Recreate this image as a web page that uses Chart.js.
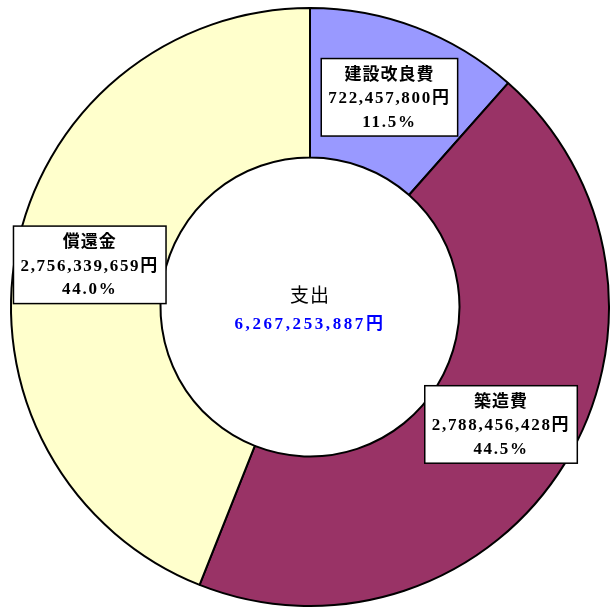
<!DOCTYPE html>
<html><head><meta charset="utf-8">
<script src="https://cdn.jsdelivr.net/npm/chart.js@4/dist/chart.umd.min.js"></script>
<style>html,body{margin:0;padding:0;background:#fff;}#wrap{width:612px;height:612px;}</style>
</head><body><div id="wrap"><canvas id="c" width="612" height="612"></canvas></div>
<script>
const categories = ['建設改良費', '築造費', '償還金'];
const amounts = [722457800, 2788456428, 2756339659];
const amountLabels = ['722,457,800円', '2,788,456,428円', '2,756,339,659円'];
const percentLabels = ['11.5%', '44.5%', '44.0%'];
const centerTitle = '支出';
const centerTotal = '6,267,253,887円';
const colors = ['#9999FF', '#993366', '#FFFFCC'];

const FONT_FAMILY = '"Liberation Serif", "Noto Sans CJK JP", serif';

const labelPlugin = {
  id: 'labelBoxes',
  afterDraw(chart) {
    const ctx = chart.ctx;
    const meta = chart.getDatasetMeta(0);
    ctx.save();
    ctx.textAlign = 'center';
    ctx.textBaseline = 'middle';
    const spacings = ['1px', '1.7px', '1.7px'];
    meta.data.forEach((arc, i) => {
      const p = arc.tooltipPosition();
      const lines = [categories[i], amountLabels[i], percentLabels[i]];
      ctx.font = 'bold 17px ' + FONT_FAMILY;
      let w = 0;
      lines.forEach((l, k) => { ctx.letterSpacing = spacings[k]; w = Math.max(w, ctx.measureText(l).width); });
      const lh = 23.5;
      const bw = w + 14, bh = lh * 3 + 7;
      const x0 = p.x - bw / 2, y0 = p.y - bh / 2;
      ctx.fillStyle = '#fff';
      ctx.fillRect(x0, y0, bw, bh);
      ctx.strokeStyle = '#000';
      ctx.lineWidth = 1.5;
      ctx.strokeRect(x0, y0, bw, bh);
      ctx.fillStyle = '#000';
      lines.forEach((l, k) => {
        ctx.letterSpacing = spacings[k];
        ctx.fillText(l, p.x, y0 + 4 + lh * (k + 0.5) + 1);
      });
    });
    const cx = (chart.chartArea.left + chart.chartArea.right) / 2;
    const cy = (chart.chartArea.top + chart.chartArea.bottom) / 2;
    ctx.letterSpacing = '1px';
    ctx.font = '19px ' + FONT_FAMILY;
    ctx.fillStyle = '#000';
    ctx.fillText(centerTitle, cx, cy - 10);
    ctx.letterSpacing = '2.6px';
    ctx.font = 'bold 17px ' + FONT_FAMILY;
    ctx.fillStyle = '#0000FF';
    ctx.fillText(centerTotal, cx, cy + 18);
    ctx.restore();
  }
};

new Chart(document.getElementById('c'), {
  type: 'doughnut',
  data: {
    labels: categories,
    datasets: [{
      data: amounts,
      backgroundColor: colors,
      borderColor: '#000',
      borderWidth: 2,
      borderAlign: 'center'
    }]
  },
  options: {
    responsive: false,
    animation: false,
    cutout: '50%',
    layout: { padding: { left: 10, right: 2, top: 7, bottom: 5 } },
    plugins: { legend: { display: false }, tooltip: { enabled: false } }
  },
  plugins: [labelPlugin]
});
</script></body></html>
